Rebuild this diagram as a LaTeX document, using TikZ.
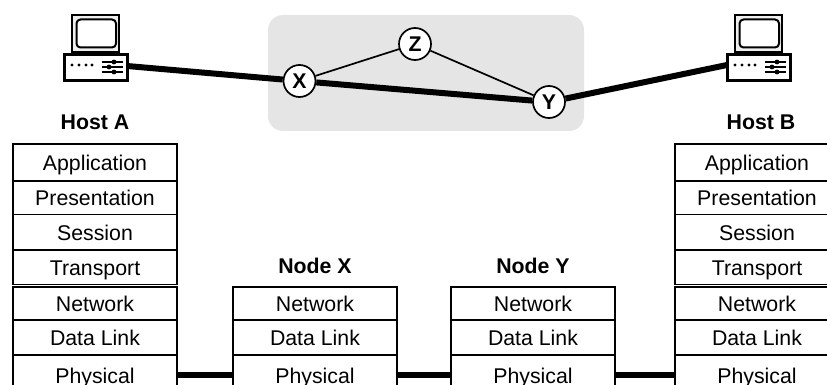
\documentclass[tikz,border=0pt]{standalone}
\usepackage{fontspec}
\setmainfont{Liberation Sans}
\usetikzlibrary{positioning}
\definecolor{cloudgray}{HTML}{E5E5E5}

\begin{document}
\begin{tikzpicture}[x=1pt, y=-1pt, font=\fontsize{21.3}{24}\selectfont]
    % Define styles
    \tikzset{layer/.style={rectangle, draw=black, line width=1.5pt, outer sep=0pt, minimum width=164pt, minimum height=35pt, text height=17pt, text depth=1pt, inner sep=0pt}}
    \tikzset{router/.style={circle, draw=black, fill=white, line width=1.7pt, minimum size=32pt, inner sep=0pt, font=\fontsize{21.3}{24}\selectfont\bfseries}}
    \tikzset{title/.style={font=\fontsize{21.3}{24}\selectfont\bfseries}}
    \tikzset{trunk/.style={line width=6pt}}
    \tikzset{branch/.style={line width=1.7pt}}
    \tikzset{pics/computer/.style={code={
        \draw [line width=2.5pt, fill=cloudgray!60] (8,-40) rectangle (55,-3);
        \draw [line width=2pt, fill=white, rounded corners=4pt] (12.5,-35.5) rectangle (52,-7.5);
        \draw [line width=3pt, fill=white] (0,0) rectangle (63,26);
        \foreach \dotx in {8,15,22,28} {\fill (\dotx,10) circle (1.6pt);}
        \foreach \slidery/\knobx in {7/50,12/45,17/50} {
            \draw [line width=1.4pt] (38,\slidery) -- (59,\slidery);
            \fill (\knobx,\slidery) circle (2.4pt);
        }
    }}}
    \useasboundingbox (0,0) rectangle (827,385);

    % Network cloud
    \fill [cloudgray, rounded corners=15pt] (268,15) rectangle (584,131);

    % Computers
    \pic at (64,55) {computer};
    \pic at (727,55) {computer};
    \coordinate (portA) at (127,66);
    \coordinate (portB) at (727,65);

    % Routers
    \node (X) [router] at (299.5,81) {X};
    \node (Z) [router] at (415,44) {Z};
    \node (Y) [router] at (549,102) {Y};

    % Host A stack
    \node (appA) [layer, minimum height=37pt, anchor=north] at (95,144) {Application};
    \node (presA) [layer, minimum height=33.5pt, below=0pt of appA] {Presentation};
    \node (sessA) [layer, minimum height=35.5pt, below=0pt of presA] {Session};
    \node (transA) [layer, minimum height=34.5pt, below=0pt of sessA] {Transport};
    \node (netA) [layer, minimum height=33pt, below=2.5pt of transA] {Network};
    \node (linkA) [layer, below=0pt of netA] {Data Link};
    \node (physA) [layer, minimum height=40pt, below=0pt of linkA] {Physical};

    % Node X stack
    \node (netX) [layer, minimum height=33pt, anchor=north] at (315,287) {Network};
    \node (linkX) [layer, below=0pt of netX] {Data Link};
    \node (physX) [layer, minimum height=40pt, below=0pt of linkX] {Physical};

    % Node Y stack
    \node (netY) [layer, minimum height=33pt, anchor=north] at (533,287) {Network};
    \node (linkY) [layer, below=0pt of netY] {Data Link};
    \node (physY) [layer, minimum height=40pt, below=0pt of linkY] {Physical};

    % Host B stack
    \node (appB) [layer, minimum height=37pt, anchor=north] at (757,144) {Application};
    \node (presB) [layer, minimum height=33.5pt, below=0pt of appB] {Presentation};
    \node (sessB) [layer, minimum height=35.5pt, below=0pt of presB] {Session};
    \node (transB) [layer, minimum height=34.5pt, below=0pt of sessB] {Transport};
    \node (netB) [layer, minimum height=33pt, below=2.5pt of transB] {Network};
    \node (linkB) [layer, below=0pt of netB] {Data Link};
    \node (physB) [layer, minimum height=40pt, below=0pt of linkB] {Physical};

    % Titles
    \node (titleA) [title] at (95,122) {Host A};
    \node (titleB) [title] at (761,122) {Host B};
    \node (titleX) [title] at (315,266) {Node X};
    \node (titleY) [title] at (533,266) {Node Y};

    % Links
    \draw [trunk] (portA) -- (X);
    \draw [trunk] (X) -- (Y);
    \draw [trunk] (Y) -- (portB);
    \draw [branch] (X) -- (Z);
    \draw [branch] (Z) -- (Y);
    \draw [trunk] (physA) -- (physX);
    \draw [trunk] (physX) -- (physY);
    \draw [trunk] (physY) -- (physB);
\end{tikzpicture}
\end{document}
